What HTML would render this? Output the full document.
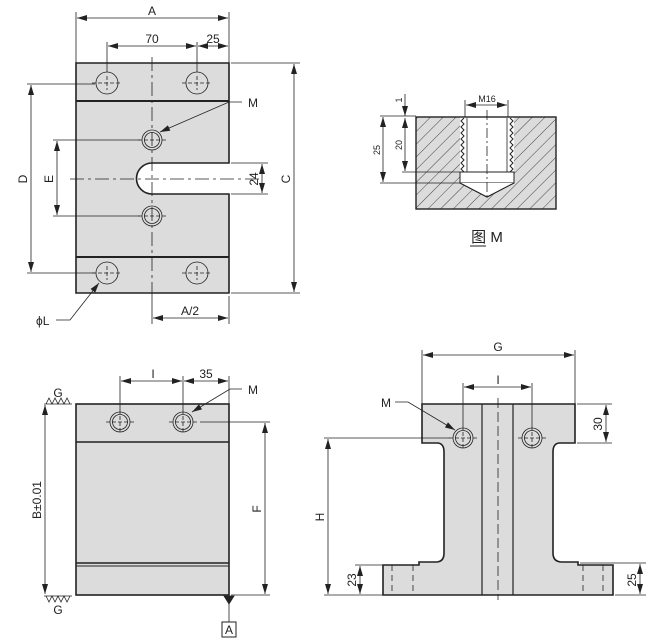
<!DOCTYPE html>
<html><head><meta charset="utf-8"><style>
html,body{margin:0;padding:0;background:#fff;}
svg{display:block;}
text{font-family:"Liberation Sans","Noto Sans CJK SC",sans-serif;fill:#222;}
</style></head><body>
<svg width="657" height="642" viewBox="0 0 657 642" xmlns="http://www.w3.org/2000/svg">
<defs>
<marker id="ar" viewBox="0 0 10 6" refX="10" refY="3" markerWidth="10" markerHeight="6" orient="auto-start-reverse" markerUnits="userSpaceOnUse"><path d="M0,0 L10,3 L0,6 z" fill="#222"/></marker>
<pattern id="hatch" width="9" height="9" patternUnits="userSpaceOnUse" patternTransform="rotate(45)"><rect width="9" height="9" fill="#dcdcdc"/><line x1="0" y1="0" x2="0" y2="9" stroke="#444" stroke-width="1"/></pattern>
</defs>
<g stroke="#222" fill="none" stroke-width="0.8">

<!-- ===== TOP VIEW ===== -->
<path d="M76,63 H229 V163 H152 A15,15 0 0 0 152,194 H229 V293 H76 Z" fill="#dcdcdd" stroke-width="1.6"/>
<line x1="76" y1="101" x2="229" y2="101" stroke-width="2"/>
<line x1="76" y1="257" x2="229" y2="257" stroke-width="2"/>
<line x1="152" y1="57" x2="152" y2="300" stroke-dasharray="14,4,3,4"/>
<line x1="70" y1="179" x2="262" y2="179" stroke-dasharray="14,4,3,4"/>
<g>
<circle cx="107" cy="83" r="11"/><circle cx="197" cy="83" r="11"/>
<circle cx="107" cy="273" r="11"/><circle cx="197" cy="273" r="11"/>
<circle cx="152" cy="140" r="10"/><circle cx="152" cy="140" r="7.5"/>
<circle cx="152" cy="216" r="10"/><circle cx="152" cy="216" r="7.5"/>
<path d="M92,83h30M107,76v14M182,83h30M197,76v14M92,273h30M107,266v14M182,273h30M197,266v14M138,140h28M138,216h28" stroke-dasharray="4,2"/>
</g>
<!-- dims -->
<line x1="76" y1="12" x2="76" y2="63"/><line x1="229" y1="12" x2="229" y2="63"/>
<line x1="77" y1="18" x2="228" y2="18" marker-start="url(#ar)" marker-end="url(#ar)"/>
<line x1="107" y1="42" x2="107" y2="72"/><line x1="197" y1="42" x2="197" y2="72"/>
<line x1="108" y1="46" x2="196" y2="46" marker-start="url(#ar)" marker-end="url(#ar)"/>
<line x1="198" y1="46" x2="228" y2="46" marker-start="url(#ar)" marker-end="url(#ar)"/>
<line x1="231" y1="63" x2="300" y2="63"/><line x1="231" y1="293" x2="300" y2="293"/>
<line x1="294" y1="64" x2="294" y2="292" marker-start="url(#ar)" marker-end="url(#ar)"/>
<line x1="27" y1="84" x2="95" y2="84"/><line x1="27" y1="273" x2="95" y2="273"/>
<line x1="31" y1="85" x2="31" y2="272" marker-start="url(#ar)" marker-end="url(#ar)"/>
<line x1="53" y1="140" x2="140" y2="140"/><line x1="53" y1="216" x2="140" y2="216"/>
<line x1="57" y1="141" x2="57" y2="215" marker-start="url(#ar)" marker-end="url(#ar)"/>
<line x1="231" y1="163" x2="268" y2="163"/><line x1="231" y1="194" x2="268" y2="194"/>
<line x1="262" y1="164" x2="262" y2="193" marker-start="url(#ar)" marker-end="url(#ar)"/>
<line x1="229" y1="296" x2="229" y2="324"/><line x1="152" y1="296" x2="152" y2="324"/>
<line x1="153" y1="318" x2="228" y2="318" marker-start="url(#ar)" marker-end="url(#ar)"/>
<path d="M242,102 H229 L160,132" marker-end="url(#ar)"/>
<path d="M56,320 H70 L99,283" marker-end="url(#ar)"/>

<!-- ===== DETAIL M ===== -->
<path d="M416,117 H460 V172 H514 V117 H556 V209 H416 Z M460,172 V183 L487,197 L514,183 V172 Z" fill="url(#hatch)" fill-rule="evenodd" stroke="none"/>
<rect x="416" y="117" width="140" height="92" stroke-width="1.4"/>
<path d="M460,172 V183 L487,197 L514,183 V172 Z" fill="url(#hatch)" stroke-width="1"/>
<rect x="461" y="118" width="52" height="54" fill="#fff" stroke="none"/>
<path d="M464,118 l-3,3 l3,3 l-3,3 l3,3 l-3,3 l3,3 l-3,3 l3,3 l-3,3 l3,3 l-3,3 l3,3 l-3,3 l3,3 l-3,3 l3,3 l-3,3 l3,3 l-3,3 V172" stroke-width="1"/>
<path d="M510,118 l3,3 l-3,3 l3,3 l-3,3 l3,3 l-3,3 l3,3 l-3,3 l3,3 l-3,3 l3,3 l-3,3 l3,3 l-3,3 l3,3 l-3,3 l3,3 l-3,3 V172" stroke-width="1"/>
<line x1="467" y1="118" x2="467" y2="172"/><line x1="507" y1="118" x2="507" y2="172"/>
<rect x="460" y="172" width="54" height="11" fill="#fff" stroke-width="1"/>
<path d="M460,183 L487,197 L514,183" fill="#fff" stroke-width="1"/>
<line x1="487" y1="110" x2="487" y2="200" stroke-dasharray="10,3,2,3"/>
<line x1="465" y1="100" x2="465" y2="117"/><line x1="508" y1="100" x2="508" y2="117"/>
<line x1="466" y1="105" x2="507" y2="105" marker-start="url(#ar)" marker-end="url(#ar)"/>
<line x1="380" y1="116" x2="416" y2="116"/><line x1="380" y1="183" x2="460" y2="183"/><line x1="402" y1="172" x2="460" y2="172"/>
<line x1="383" y1="117" x2="383" y2="182" marker-start="url(#ar)" marker-end="url(#ar)"/>
<line x1="405" y1="118" x2="405" y2="171" marker-start="url(#ar)" marker-end="url(#ar)"/>
<line x1="405" y1="94" x2="405" y2="116" marker-end="url(#ar)"/>
<line x1="470" y1="246" x2="486" y2="246" stroke-width="1"/>

<!-- ===== FRONT VIEW ===== -->
<rect x="76" y="404" width="153" height="191" fill="#dcdcdd" stroke-width="1.6"/>
<line x1="76" y1="442" x2="229" y2="442" stroke-width="1.6"/>
<line x1="76" y1="563" x2="229" y2="563" stroke-width="1.4"/>
<line x1="76" y1="566" x2="229" y2="566" stroke-width="1"/>
<circle cx="120" cy="422" r="10"/><circle cx="120" cy="422" r="7.5"/>
<circle cx="183" cy="422" r="10"/><circle cx="183" cy="422" r="7.5"/>
<path d="M106,422h28M120,410v24M169,422h28M183,410v24" stroke-dasharray="4,2"/>
<line x1="200" y1="422" x2="270" y2="422"/>
<line x1="231" y1="595" x2="270" y2="595"/>
<line x1="265" y1="423" x2="265" y2="594" marker-start="url(#ar)" marker-end="url(#ar)"/>
<line x1="120" y1="376" x2="120" y2="410"/><line x1="183" y1="376" x2="183" y2="410"/><line x1="229" y1="376" x2="229" y2="404"/>
<line x1="121" y1="381" x2="182" y2="381" marker-start="url(#ar)" marker-end="url(#ar)"/>
<line x1="184" y1="381" x2="228" y2="381" marker-start="url(#ar)" marker-end="url(#ar)"/>
<path d="M242,389 H230 L192,412" marker-end="url(#ar)"/>
<line x1="45" y1="405" x2="45" y2="594" marker-start="url(#ar)" marker-end="url(#ar)"/>
<path d="M44,404 H72 M46,404 l3,-6 l3,6 l3,-6 l3,6 l3,-6 l3,6 l3,-6 l3,6"/>
<path d="M44,596 H72 M46,596 l3,6 l3,-6 l3,6 l3,-6 l3,6 l3,-6 l3,6 l3,-6"/>
<path d="M224,596 L234,596 L229,604 Z" fill="#222"/>
<line x1="229" y1="604" x2="229" y2="622"/>
<rect x="222" y="622" width="14" height="15" stroke-width="1"/>

<!-- ===== SIDE VIEW ===== -->
<path d="M422,404 H575 V443 H560 Q553,443 553,452 V553 Q553,562 562,562 H578 V565 H613 V595 H383 V565 H419 V562 H436 Q444,562 444,553 V452 Q444,443 437,443 H422 Z" fill="#dcdcdd" stroke-width="1.6"/>
<line x1="482" y1="404" x2="482" y2="595" stroke-width="1.2"/>
<line x1="513" y1="404" x2="513" y2="595" stroke-width="1.2"/>
<line x1="498" y1="398" x2="498" y2="600" stroke-dasharray="10,4"/>
<path d="M392,565V595M413,565V595M583,565V595M603,565V595" stroke-dasharray="6,4"/>
<circle cx="463" cy="438" r="10"/><circle cx="463" cy="438" r="7.5"/>
<circle cx="532" cy="438" r="10"/><circle cx="532" cy="438" r="7.5"/>
<path d="M449,438h28M463,426v24M518,438h28M532,426v24" stroke-dasharray="4,2"/>
<line x1="422" y1="350" x2="422" y2="404"/><line x1="575" y1="350" x2="575" y2="404"/>
<line x1="423" y1="355" x2="574" y2="355" marker-start="url(#ar)" marker-end="url(#ar)"/>
<line x1="463" y1="383" x2="463" y2="426"/><line x1="532" y1="383" x2="532" y2="426"/>
<line x1="464" y1="387" x2="531" y2="387" marker-start="url(#ar)" marker-end="url(#ar)"/>
<line x1="577" y1="404" x2="612" y2="404"/><line x1="577" y1="443" x2="612" y2="443"/>
<line x1="606" y1="405" x2="606" y2="442" marker-start="url(#ar)" marker-end="url(#ar)"/>
<line x1="324" y1="438" x2="450" y2="438"/><line x1="324" y1="595" x2="383" y2="595"/>
<line x1="328" y1="439" x2="328" y2="594" marker-start="url(#ar)" marker-end="url(#ar)"/>
<line x1="355" y1="565" x2="383" y2="565"/>
<line x1="360" y1="566" x2="360" y2="594" marker-start="url(#ar)" marker-end="url(#ar)"/>
<line x1="580" y1="563" x2="646" y2="563"/><line x1="615" y1="595" x2="646" y2="595"/>
<line x1="640" y1="564" x2="640" y2="594" marker-start="url(#ar)" marker-end="url(#ar)"/>
<path d="M395,402 H408 L455,430" marker-end="url(#ar)"/>
</g>

<!-- ===== TEXT ===== -->
<g font-size="12">
<text x="152" y="15" text-anchor="middle">A</text>
<text x="152" y="43" text-anchor="middle">70</text>
<text x="213" y="43" text-anchor="middle">25</text>
<text x="248" y="107">M</text>
<text x="0" y="0" transform="translate(290,179) rotate(-90)" text-anchor="middle">C</text>
<text x="0" y="0" transform="translate(27,179) rotate(-90)" text-anchor="middle">D</text>
<text x="0" y="0" transform="translate(53,179) rotate(-90)" text-anchor="middle">E</text>
<text x="0" y="0" transform="translate(258,179) rotate(-90)" text-anchor="middle">24</text>
<text x="190" y="315" text-anchor="middle">A/2</text>
<text x="36" y="325">ϕL</text>
<text x="487" y="242" text-anchor="middle" font-size="15">图 M</text>
<text x="153" y="378" text-anchor="middle">I</text>
<text x="206" y="378" text-anchor="middle">35</text>
<text x="248" y="394">M</text>
<text x="58" y="397" text-anchor="middle">G</text>
<text x="58" y="614" text-anchor="middle">G</text>
<text x="229" y="634" text-anchor="middle">A</text>
<text x="0" y="0" transform="translate(261,509) rotate(-90)" text-anchor="middle">F</text>
<text x="0" y="0" transform="translate(41,500) rotate(-90)" text-anchor="middle">B±0.01</text>
<text x="498" y="351" text-anchor="middle">G</text>
<text x="498" y="384" text-anchor="middle">I</text>
<text x="381" y="407">M</text>
<text x="0" y="0" transform="translate(602,424) rotate(-90)" text-anchor="middle">30</text>
<text x="0" y="0" transform="translate(324,517) rotate(-90)" text-anchor="middle">H</text>
<text x="0" y="0" transform="translate(356,580) rotate(-90)" text-anchor="middle">23</text>
<text x="0" y="0" transform="translate(636,580) rotate(-90)" text-anchor="middle">25</text>
</g>
<g font-size="9">
<text x="487" y="102" text-anchor="middle">M16</text>
<text x="0" y="0" transform="translate(380,150) rotate(-90)" text-anchor="middle">25</text>
<text x="0" y="0" transform="translate(402,145) rotate(-90)" text-anchor="middle">20</text>
<text x="0" y="0" transform="translate(402,100) rotate(-90)" text-anchor="middle">1</text>
</g>
</svg>
</body></html>
